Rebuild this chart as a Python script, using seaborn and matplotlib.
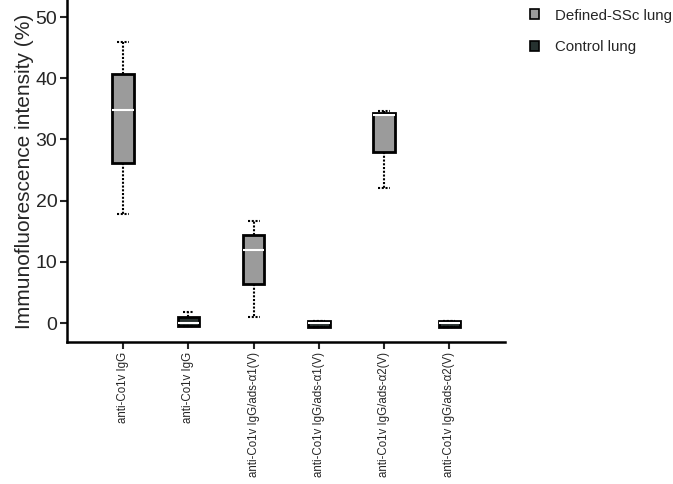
import numpy as np
import pandas as pd
import matplotlib
matplotlib.use("Agg")
import matplotlib.pyplot as plt
import seaborn as sns
from matplotlib.patches import Patch

# Tick labels, one per box (left to right)
TICK_LABELS = [
    "anti-Co1v IgG",
    "anti-Co1v IgG",
    "anti-Co1v IgG/ads-\u03b11(V)",
    "anti-Co1v IgG/ads-\u03b11(V)",
    "anti-Co1v IgG/ads-\u03b12(V)",
    "anti-Co1v IgG/ads-\u03b12(V)",
]
GROUPS = ["Defined-SSc lung", "Control lung",
          "Defined-SSc lung", "Control lung",
          "Defined-SSc lung", "Control lung"]

# min, q1, median, q3, max (%)
BOX_STATS = [
    [17.9, 26.1, 34.8, 40.7, 45.9],
    [-0.5, -0.5, 0.0, 1.0, 1.8],
    [1.0, 6.3, 11.9, 14.4, 16.7],
    [-0.6, -0.6, 0.0, 0.4, 0.4],
    [22.1, 27.9, 34.0, 34.4, 34.7],
    [-0.6, -0.6, 0.0, 0.3, 0.3],
]

COLORS = {"Defined-SSc lung": "#9b9b9b", "Control lung": "#263230"}

rows = []
for i, (grp, vals) in enumerate(zip(GROUPS, BOX_STATS)):
    for v in vals:
        rows.append({"pos": i, "group": grp, "value": v})
df = pd.DataFrame(rows)

sns.set_style("white")
plt.rcParams["font.family"] = ["Liberation Sans", "DejaVu Sans"]

fig = plt.figure(figsize=(6.73, 4.84), dpi=100)
ax = fig.add_axes([0.0996, 0.2934, 0.6505, 0.7066])

dots = (0, (1, 0.8))
sns.boxplot(
    data=df, x="pos", y="value", hue="group", order=list(range(6)),
    hue_order=list(COLORS), palette=COLORS, dodge=False, width=0.33,
    whis=(0, 100), showfliers=False, linecolor="black", linewidth=2,
    whiskerprops={"linestyle": dots, "linewidth": 1.5},
    capprops={"linestyle": dots, "linewidth": 1.5},
    medianprops={"color": "white", "linewidth": 1.5},
    legend=False, ax=ax,
)

# widen the caps a bit (they are about half the box width)
for ln in ax.lines:
    xs, ys = ln.get_xdata(), ln.get_ydata()
    if len(xs) == 2 and ys[0] == ys[1] and ln.get_linestyle() != "-":
        c = (xs[0] + xs[1]) / 2
        ln.set_xdata([c - 0.09, c + 0.09])

ax.set_xlim(-0.86, 5.85)
ax.set_ylim(-3.1, 52.8)
ax.set_yticks([0, 10, 20, 30, 40, 50])
ax.set_xticks(range(6))
ax.set_xticklabels(TICK_LABELS, rotation=90, fontsize=8.3)
ax.set_xlabel("")
ax.set_ylabel("Immunofluorescence intensity (%)", fontsize=15, labelpad=1)
ax.tick_params(axis="y", labelsize=14, length=5, width=1.5, direction="out", left=True, pad=2)
ax.tick_params(axis="x", length=5, width=1.5, direction="out", bottom=True, pad=2)
for s in ["top", "right"]:
    ax.spines[s].set_visible(False)
for s in ["left", "bottom"]:
    ax.spines[s].set_linewidth(1.8)
    ax.spines[s].set_color("black")

handles = [Patch(facecolor=c, edgecolor="black", linewidth=1.2, label=k)
           for k, c in COLORS.items()]
fig.legend(handles=handles, loc="upper left", bbox_to_anchor=(0.768, 1.01),
           frameon=False, fontsize=10.8, handlelength=0.55, handleheight=0.65,
           labelspacing=1.15, handletextpad=1.1)

fig.savefig("out.png", dpi=100)
